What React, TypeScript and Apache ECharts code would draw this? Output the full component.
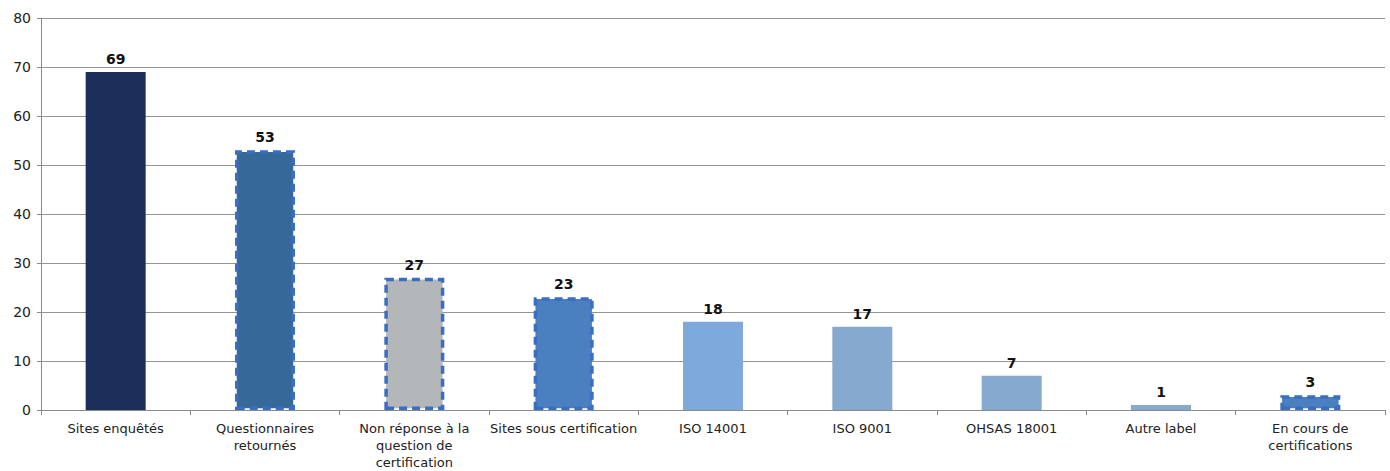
import React, { useEffect, useRef } from "react";
import * as echarts from "echarts";

// Categories of the survey and the number of sites in each
const categories: string[] = [
  "Sites enquêtés",
  "Questionnaires\nretournés",
  "Non réponse à la\nquestion de\ncertification",
  "Sites sous certification",
  "ISO 14001",
  "ISO 9001",
  "OHSAS 18001",
  "Autre label",
  "En cours de\ncertifications",
];
const siteCounts: number[] = [69, 53, 27, 23, 18, 17, 7, 1, 3];

// Per-bar fill colours and which bars get a dashed outline
const barColors: string[] = [
  "#1c2f5a",
  "#36699a",
  "#b4b7b9",
  "#4b80c0",
  "#7eaadb",
  "#86a9cf",
  "#86a9cf",
  "#86a9cf",
  "#4b80c0",
];
const dashedOutline: boolean[] = [false, true, true, true, false, false, false, false, true];

const FONT = "DejaVu Sans";

export default function App() {
  const ref = useRef<HTMLDivElement>(null);

  useEffect(() => {
    if (!ref.current) return;
    const chart = echarts.init(ref.current, null, { renderer: "svg" });

    const data = siteCounts.map((v, i) => ({
      value: v,
      itemStyle: dashedOutline[i]
        ? {
            color: barColors[i],
            borderColor: "#3a6ec2",
            borderWidth: 3.5,
            borderType: [8, 5],
          }
        : { color: barColors[i] },
    }));

    chart.setOption({
      animation: false,
      backgroundColor: "#ffffff",
      grid: { left: 41, right: 5, top: 18, bottom: 57, containLabel: false },
      xAxis: {
        type: "category",
        data: categories,
        boundaryGap: true,
        axisLine: { lineStyle: { color: "#8a8a8a", width: 1 } },
        axisTick: { show: true, length: 5, alignWithLabel: false, lineStyle: { color: "#8a8a8a" } },
        axisLabel: {
          interval: 0,
          margin: 10,
          color: "#222",
          fontFamily: FONT,
          fontSize: 13,
          lineHeight: 17,
        },
      },
      yAxis: {
        type: "value",
        min: 0,
        max: 80,
        interval: 10,
        axisLine: { show: true, lineStyle: { color: "#8a8a8a", width: 1 } },
        axisTick: { show: true, length: 4, lineStyle: { color: "#8a8a8a" } },
        splitLine: { show: true, lineStyle: { color: "#959595", width: 1 } },
        axisLabel: {
          margin: 10,
          color: "#222",
          fontFamily: FONT,
          fontSize: 14,
        },
      },
      series: [
        {
          type: "bar",
          data,
          barWidth: 60,
          label: {
            show: true,
            position: "top",
            distance: 6,
            color: "#111",
            fontFamily: FONT,
            fontWeight: "bold",
            fontSize: 14,
          },
        },
      ],
    });

    return () => chart.dispose();
  }, []);

  return (
    <div
      ref={ref}
      style={{ position: "fixed", left: 0, top: 0, width: 1390, height: 471 }}
    />
  );
}
